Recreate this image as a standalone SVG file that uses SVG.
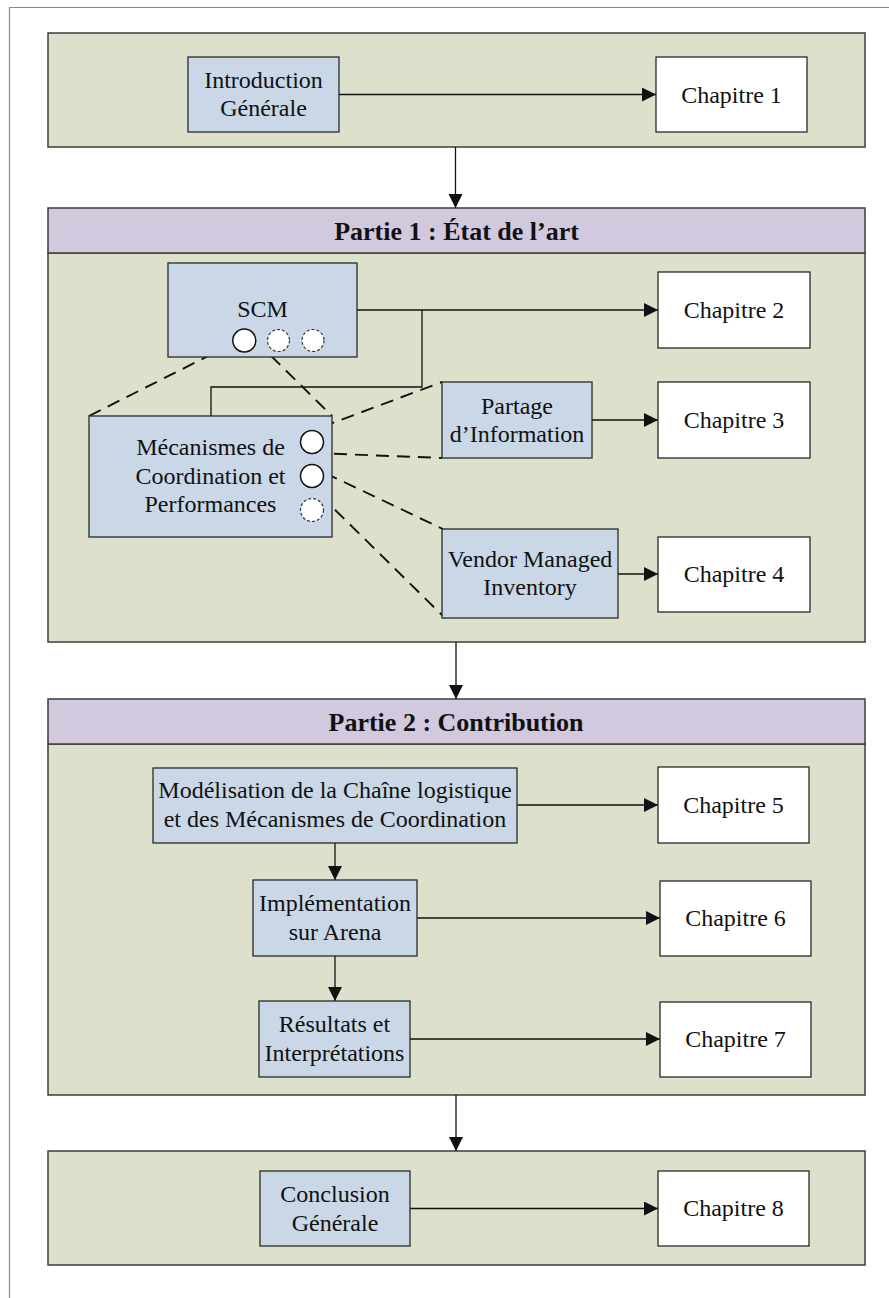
<svg xmlns="http://www.w3.org/2000/svg" width="889" height="1298" viewBox="0 0 889 1298">
<style>
.sec{fill:#dde1cb;stroke:#3c3c3c;stroke-width:1.5}
.hdr{fill:#d3c9de;stroke:#3c3c3c;stroke-width:1.5}
.blue{fill:#c9d7e6;stroke:#2a2a2a;stroke-width:1.3}
.white{fill:#ffffff;stroke:#2a2a2a;stroke-width:1.3}
.t{font-family:"Liberation Serif","Times New Roman",serif;font-size:24px;fill:#111;text-anchor:middle}
.h{font-family:"Liberation Serif","Times New Roman",serif;font-size:26px;font-weight:bold;fill:#111;text-anchor:middle}
.c{fill:none;stroke:#111;stroke-width:1.3}
.ca{fill:none;stroke:#111;stroke-width:1.3;marker-end:url(#arr)}
.d{fill:none;stroke:#111;stroke-width:1.9;stroke-dasharray:13,8}
.cs{fill:#fff;stroke:#111;stroke-width:1.5}
.cd{fill:#fff;stroke:#333;stroke-width:1.2;stroke-dasharray:3,2}
</style>
<defs>
<marker id="arr" markerUnits="userSpaceOnUse" markerWidth="15" markerHeight="15" refX="14" refY="7" orient="auto">
<path d="M0,0 L14,7 L0,14 z" fill="#111"/>
</marker>
</defs>
<rect width="889" height="1298" fill="#ffffff"/>
<path d="M9.5,1298 V7.5 H889" fill="none" stroke="#8a8a8a" stroke-width="1.2"/>

<g id="sections">
<rect id="section-intro" class="sec" x="48" y="33" width="817" height="114"/>
<g id="section-partie1">
<rect class="sec" x="48" y="253" width="817" height="389"/>
<rect class="hdr" x="48" y="208" width="817" height="45"/>
<text class="h" x="456.5" y="239.5">Partie 1 : État de l’art</text>
</g>
<g id="section-partie2">
<rect class="sec" x="48" y="744" width="817" height="351"/>
<rect class="hdr" x="48" y="699" width="817" height="45"/>
<text class="h" x="456" y="730.5">Partie 2 : Contribution</text>
</g>
<rect id="section-conclusion" class="sec" x="48" y="1151" width="817" height="114"/>
</g>

<g id="connectors">
<line class="ca" x1="455.5" y1="147" x2="455.5" y2="208"/>
<line class="ca" x1="456" y1="642" x2="456" y2="699"/>
<line class="ca" x1="456" y1="1095" x2="456" y2="1151"/>
<line class="ca" x1="339" y1="94.5" x2="656" y2="94.5"/>
<line class="ca" x1="357" y1="310" x2="658" y2="310"/>
<polyline class="c" points="422,310 422,387 211,387 211,416"/>
<line class="ca" x1="592" y1="420" x2="658" y2="420"/>
<line class="ca" x1="618" y1="574" x2="658" y2="574"/>
<line class="ca" x1="517" y1="805" x2="658" y2="805"/>
<line class="ca" x1="335" y1="843" x2="335" y2="880"/>
<line class="ca" x1="417" y1="918" x2="660" y2="918"/>
<line class="ca" x1="335" y1="956" x2="335" y2="1001"/>
<line class="ca" x1="410" y1="1039" x2="660" y2="1039"/>
<line class="ca" x1="410" y1="1208.5" x2="658" y2="1208.5"/>
<g id="dashed">
<line class="d" x1="89" y1="416" x2="230" y2="345"/>
<line class="d" x1="256" y1="341" x2="332" y2="416"/>
<line class="d" x1="322" y1="427" x2="442" y2="382"/>
<line class="d" x1="313" y1="453" x2="442" y2="458"/>
<line class="d" x1="325" y1="473" x2="443" y2="529"/>
<line class="d" x1="320" y1="495" x2="445" y2="618"/>
</g>
</g>

<g id="n-intro"><rect class="blue" x="188" y="57" width="151" height="75"/><text class="t" x="263.5" y="88">Introduction</text><text class="t" x="263.5" y="116">Générale</text></g>
<g id="n-ch1"><rect class="white" x="656" y="57" width="151" height="75"/><text class="t" x="731.5" y="102.5">Chapitre 1</text></g>

<g id="n-scm"><rect class="blue" x="168" y="263" width="189" height="94"/><text class="t" x="262.5" y="316.5">SCM</text>
<circle class="cs" cx="244.3" cy="340.5" r="11.5"/>
<circle class="cd" cx="278.5" cy="340.5" r="11"/>
<circle class="cd" cx="313" cy="340.5" r="11"/>
</g>
<g id="n-ch2"><rect class="white" x="658" y="272" width="152" height="76"/><text class="t" x="734" y="317.5">Chapitre 2</text></g>
<g id="n-meca"><rect class="blue" x="89" y="416" width="243" height="121"/>
<text class="t" x="210.5" y="455">Mécanismes de</text>
<text class="t" x="210.5" y="483.5">Coordination et</text>
<text class="t" x="210.5" y="512">Performances</text>
<circle class="cs" cx="312" cy="442" r="11.5"/>
<circle class="cs" cx="312" cy="476" r="11.5"/>
<circle class="cd" cx="312" cy="510" r="11.5"/>
</g>
<g id="n-partage"><rect class="blue" x="442" y="382" width="150" height="76"/><text class="t" x="517" y="413.5">Partage</text><text class="t" x="517" y="441.5">d’Information</text></g>
<g id="n-ch3"><rect class="white" x="658" y="382" width="152" height="76"/><text class="t" x="734" y="427.5">Chapitre 3</text></g>
<g id="n-vmi"><rect class="blue" x="442" y="529" width="176" height="89"/><text class="t" x="530" y="566.5">Vendor Managed</text><text class="t" x="530" y="595">Inventory</text></g>
<g id="n-ch4"><rect class="white" x="658" y="537" width="152" height="75"/><text class="t" x="734" y="582">Chapitre 4</text></g>

<g id="n-model"><rect class="blue" x="153" y="768" width="364" height="75"/><text class="t" x="335" y="798">Modélisation de la Chaîne logistique</text><text class="t" x="335" y="826.5">et des Mécanismes de Coordination</text></g>
<g id="n-ch5"><rect class="white" x="658" y="767" width="151" height="76"/><text class="t" x="733.5" y="812.5">Chapitre 5</text></g>
<g id="n-impl"><rect class="blue" x="253" y="880" width="164" height="76"/><text class="t" x="335" y="911">Implémentation</text><text class="t" x="335" y="939.5">sur Arena</text></g>
<g id="n-ch6"><rect class="white" x="660" y="881" width="151" height="75"/><text class="t" x="735.5" y="926">Chapitre 6</text></g>
<g id="n-result"><rect class="blue" x="259" y="1001" width="151" height="76"/><text class="t" x="334.5" y="1032">Résultats et</text><text class="t" x="334.5" y="1060.5">Interprétations</text></g>
<g id="n-ch7"><rect class="white" x="660" y="1002" width="151" height="75"/><text class="t" x="735.5" y="1047">Chapitre 7</text></g>

<g id="n-concl"><rect class="blue" x="260" y="1171" width="150" height="75"/><text class="t" x="335" y="1202">Conclusion</text><text class="t" x="335" y="1230.5">Générale</text></g>
<g id="n-ch8"><rect class="white" x="658" y="1171" width="151" height="75"/><text class="t" x="733.5" y="1216">Chapitre 8</text></g>
</svg>
